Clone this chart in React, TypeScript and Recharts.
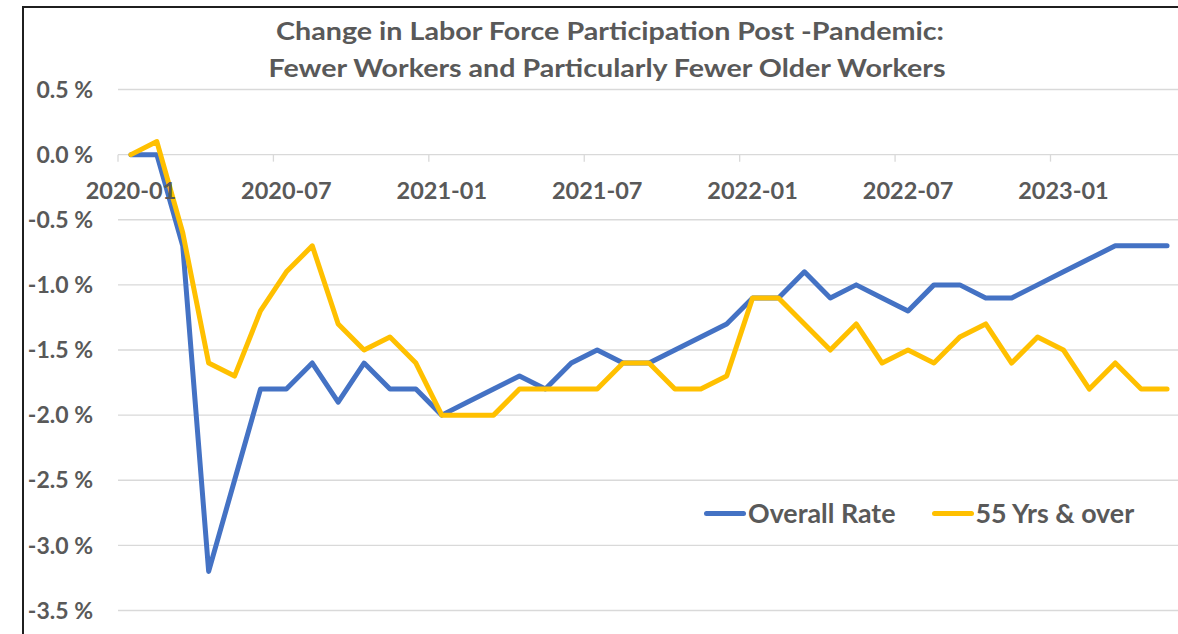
import { LineChart, Line, XAxis, YAxis, CartesianGrid, Legend } from "recharts";

const months = [
	"2020-01", "2020-02", "2020-03", "2020-04", "2020-05", "2020-06",
	"2020-07", "2020-08", "2020-09", "2020-10", "2020-11", "2020-12",
	"2021-01", "2021-02", "2021-03", "2021-04", "2021-05", "2021-06",
	"2021-07", "2021-08", "2021-09", "2021-10", "2021-11", "2021-12",
	"2022-01", "2022-02", "2022-03", "2022-04", "2022-05", "2022-06",
	"2022-07", "2022-08", "2022-09", "2022-10", "2022-11", "2022-12",
	"2023-01", "2023-02", "2023-03", "2023-04", "2023-05",
];

// change vs. Jan 2020, percentage points
const overallRate = [
	0, 0, -0.7, -3.2, -2.5, -1.8, -1.8, -1.6, -1.9, -1.6, -1.8, -1.8,
	-2.0, -1.9, -1.8, -1.7, -1.8, -1.6, -1.5, -1.6, -1.6, -1.5, -1.4, -1.3,
	-1.1, -1.1, -0.9, -1.1, -1.0, -1.1, -1.2, -1.0, -1.0, -1.1, -1.1, -1.0,
	-0.9, -0.8, -0.7, -0.7, -0.7,
];

const olderWorkers = [
	0, 0.1, -0.6, -1.6, -1.7, -1.2, -0.9, -0.7, -1.3, -1.5, -1.4, -1.6,
	-2.0, -2.0, -2.0, -1.8, -1.8, -1.8, -1.8, -1.6, -1.6, -1.8, -1.8, -1.7,
	-1.1, -1.1, -1.3, -1.5, -1.3, -1.6, -1.5, -1.6, -1.4, -1.3, -1.6, -1.4,
	-1.5, -1.8, -1.6, -1.8, -1.8,
];

const seriesOrder = ["overall", "older"];
const xTickLabels = ["2020-01", "2020-07", "2021-01", "2021-07", "2022-01", "2022-07", "2023-01"];
const yTicks = [0.5, 0, -0.5, -1, -1.5, -2, -2.5, -3, -3.5];
const Y_MIN = -3.5;
const Y_MAX = 0.5;

const data = months.map((month, i) => ({
	month,
	overall: overallRate[i],
	older: olderWorkers[i],
}));

// layout
const CHART_W = 1200;
const CHART_H = 634;
const PLOT_TOP = 89.5;
const PLOT_BOTTOM = 610.5;
const PLOT_LEFT = 118;
const PLOT_RIGHT = 1180;
const PLOT_H = PLOT_BOTTOM - PLOT_TOP;
const HALF_BAND = (PLOT_RIGHT - PLOT_LEFT) / months.length / 2;

const textGray = "#595959";
const gridGray = "#D9D9D9";
const fontFamily = "Lato, 'Noto Sans', sans-serif";

// Excel style: category labels sit under the 0 line, ticks between categories
const XTick = (props: any) => {
	const { x, y, payload } = props;
	const zeroY = y - (PLOT_H * (0 - Y_MIN)) / (Y_MAX - Y_MIN);
	return (
		<g>
			<line
				x1={x - HALF_BAND}
				x2={x - HALF_BAND}
				y1={zeroY}
				y2={zeroY + 7}
				stroke={gridGray}
				strokeWidth={1.3}
			/>
			<text
				x={x}
				y={zeroY + 35}
				textAnchor="middle"
				dominantBaseline="central"
				fill={textGray}
				fontSize={23.5}
				fontWeight={700}
				fontFamily={fontFamily}
			>
				{payload.value}
			</text>
		</g>
	);
};

const LegendContent = (props: any) => {
	const items = [...(props.payload || [])].sort(
		(a: any, b: any) => seriesOrder.indexOf(a.dataKey) - seriesOrder.indexOf(b.dataKey)
	);
	return (
		<div style={{ display: "flex", alignItems: "center", fontFamily }}>
			{items.map((entry: any) => (
				<div
					key={entry.value}
					style={{ display: "flex", alignItems: "center", marginRight: 36 }}
				>
					<div
						style={{
							width: 42,
							height: 5,
							borderRadius: 3,
							background: entry.color,
							marginRight: 2,
						}}
					/>
					<span
						style={{
							color: textGray,
							fontSize: 26.8,
							fontWeight: 700,
							lineHeight: "30px",
						}}
					>
						{entry.value}
					</span>
				</div>
			))}
		</div>
	);
};

const App = () => {
	return (
		<div
			style={{
				position: "absolute",
				left: 0,
				top: 0,
				width: 1178,
				height: 634,
				overflow: "hidden",
				background: "#fff",
			}}
		>
			<div
				style={{
					position: "absolute",
					left: 22,
					top: 6,
					right: -10,
					bottom: -10,
					borderTop: "2px solid #1f1f1f",
					borderLeft: "2px solid #1f1f1f",
				}}
			/>
			<svg
				width={1178}
				height={90}
				style={{ position: "absolute", left: 0, top: 0 }}
			>
				<text
					x={610}
					y={40}
					textAnchor="middle"
					fill={textGray}
					fontSize={24}
					fontWeight={700}
					fontFamily={fontFamily}
					textLength={668}
					lengthAdjust="spacingAndGlyphs"
				>
					Change in Labor Force Participation Post -Pandemic:
				</text>
				<text
					x={607}
					y={77}
					textAnchor="middle"
					fill={textGray}
					fontSize={24}
					fontWeight={700}
					fontFamily={fontFamily}
					textLength={677}
					lengthAdjust="spacingAndGlyphs"
				>
					Fewer Workers and Particularly Fewer Older Workers
				</text>
			</svg>
			<div style={{ position: "absolute", left: 0, top: 0 }}>
				<LineChart
					width={CHART_W}
					height={CHART_H}
					data={data}
					margin={{
						top: PLOT_TOP,
						right: CHART_W - PLOT_RIGHT,
						bottom: CHART_H - PLOT_BOTTOM - 1,
						left: 0,
					}}
				>
					<CartesianGrid vertical={false} stroke={gridGray} strokeWidth={1.3} />
					<XAxis
						dataKey="month"
						ticks={xTickLabels}
						interval={0}
						height={1}
						axisLine={false}
						tickLine={false}
						tickSize={0}
						tickMargin={0}
						padding={{ left: HALF_BAND, right: HALF_BAND }}
						tick={<XTick />}
					/>
					<YAxis
						domain={[Y_MIN, Y_MAX]}
						ticks={yTicks}
						width={PLOT_LEFT}
						axisLine={false}
						tickLine={false}
						tickSize={0}
						tickMargin={25}
						tickFormatter={(v: number) => `${v.toFixed(1)} %`}
						tick={{ fill: textGray, fontSize: 23, fontWeight: 700, fontFamily }}
					/>
					<Legend
						layout="horizontal"
						verticalAlign="middle"
						align="center"
						content={<LegendContent />}
						wrapperStyle={{ position: "absolute", left: 704, top: 498, width: "auto" }}
					/>
					<Line
						type="linear"
						dataKey="overall"
						name="Overall Rate"
						stroke="#4472C4"
						strokeWidth={5}
						strokeLinejoin="round"
						strokeLinecap="round"
						dot={false}
						activeDot={false}
						isAnimationActive={false}
					/>
					<Line
						type="linear"
						dataKey="older"
						name="55 Yrs & over"
						stroke="#FFC000"
						strokeWidth={5}
						strokeLinejoin="round"
						strokeLinecap="round"
						dot={false}
						activeDot={false}
						isAnimationActive={false}
					/>
				</LineChart>
			</div>
		</div>
	);
};

export default App;
